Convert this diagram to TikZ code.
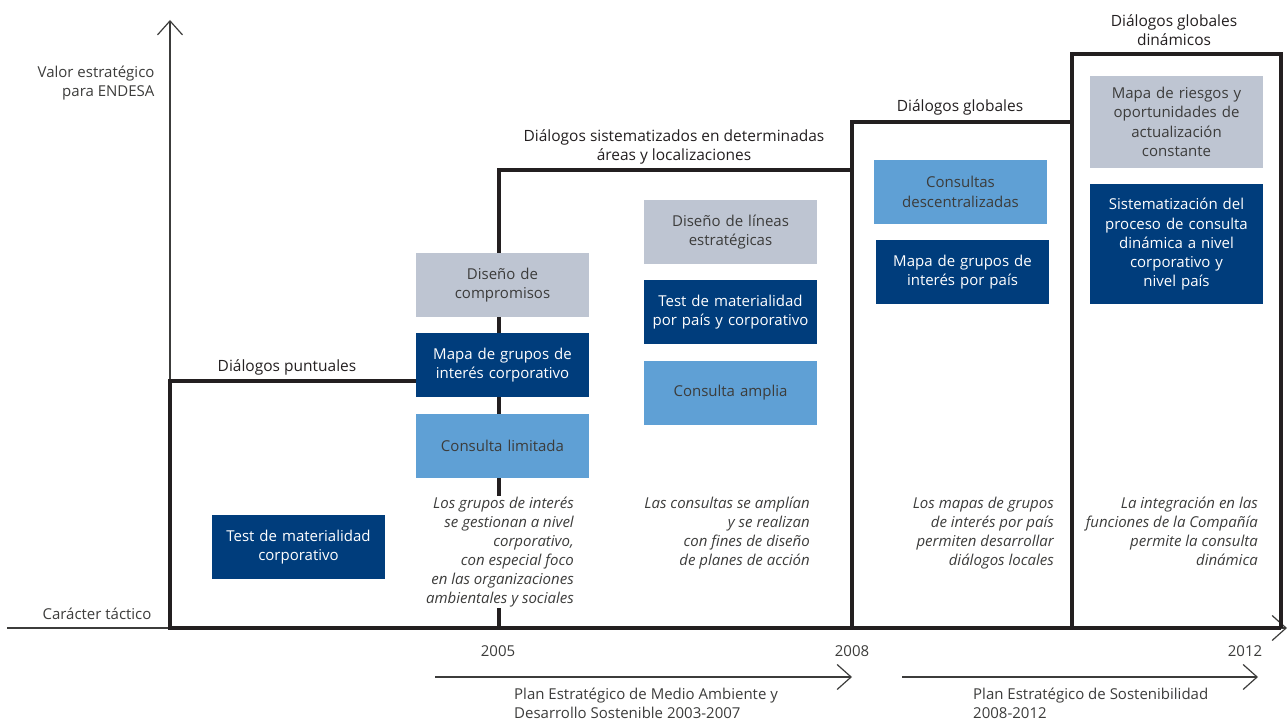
\documentclass[tikz,border=0pt]{standalone}
\usepackage{fontspec}
\setmainfont{Open Sans}
\usetikzlibrary{arrows.meta}
\usetikzlibrary{positioning}

\definecolor{darkblue}{RGB}{0,61,124}
\definecolor{lightblue}{RGB}{95,160,213}
\definecolor{paleblue}{RGB}{190,197,210}
\definecolor{inkgrey}{RGB}{60,60,59}
\definecolor{stairblack}{RGB}{35,31,32}

\tikzset{
  boxbase/.style={rectangle,minimum width=173pt,minimum height=64pt,text width=170pt,align=center,inner sep=0pt,font=\fontsize{15}{19.3}\selectfont},
  darkbox/.style={boxbase,fill=darkblue,text=white},
  lightbox/.style={boxbase,fill=lightblue,text=inkgrey},
  greybox/.style={boxbase,fill=paleblue,text=inkgrey},
  note/.style={align=right,inner sep=1pt,text=inkgrey,font=\fontsize{15}{19}\selectfont\itshape},
  heading/.style={align=center,text=stairblack,font=\fontsize{15.5}{19.5}\selectfont},
  sidelabel/.style={text=inkgrey,font=\fontsize{15}{19}\selectfont},
  stair/.style={line width=3.5pt,draw=stairblack,line join=miter},
  axis/.style={line width=1.2pt,draw=inkgrey,-{Straight Barb[length=14pt,width=25pt]}}
}

\begin{document}
\begin{tikzpicture}[x=1pt,y=-1pt]
  \useasboundingbox (0,0) rectangle (1288,722);

  % axes
  \coordinate (orig) at (170,628);
  \coordinate (ytop) at (170,20);
  \coordinate (xleft) at (7,628);
  \coordinate (xright) at (1287,628);
  \draw [axis] (orig) -- (ytop);
  \draw [axis] (xleft) -- (xright);

  \node [sidelabel,align=right,anchor=east] (valor) at (158,83) {Valor estratégico\\para ENDESA};
  \node [sidelabel,anchor=east] (tactico) at (155,614) {Carácter táctico};

  % staircase of dialogue stages
  \draw [stair] (1281,628) -- (170,628) -- (170,381) -- (499,381);
  \draw [stair] (499,628) -- (499,170) -- (852,170);
  \draw [stair] (852,628) -- (852,122) -- (1072,122);
  \draw [stair] (1072,628) -- (1072,54) -- (1281,54) -- (1281,628);

  \node [heading] (puntuales) at (287,367) {Diálogos puntuales};
  \node [heading] (sistematizados) at (674,147) {Diálogos sistematizados en determinadas\\áreas y localizaciones};
  \node [heading] (globales) at (960,107) {Diálogos globales};
  \node [heading] (dinamicos) at (1174,30) {Diálogos globales\\dinámicos};

  % stage 1
  \node [darkbox] (tm_corp) at (298.5,547) {Test de materialidad\\corporativo};

  % stage 2
  \node [greybox] (d_comp) at (502.5,285) {Diseño de\\compromisos};
  \node [darkbox,below=16pt of d_comp] (mg_corp) {Mapa de grupos de\\interés corporativo};
  \node [lightbox,below=16pt of mg_corp] (c_lim) {Consulta limitada};
  \node [note,fill=white,anchor=north east] (n_corp) at (575,496)
    {Los grupos de interés\\se gestionan a nivel\\corporativo,\\con especial foco\\en las organizaciones\\ambientales y sociales};

  % stage 3
  \node [greybox] (d_lin) at (730.5,232) {Diseño de líneas\\estratégicas};
  \node [darkbox,below=16pt of d_lin] (tm_pais) {Test de materialidad\\por país y corporativo};
  \node [lightbox,below=16pt of tm_pais] (c_amp) {Consulta amplia};
  \node [note,anchor=north east] (n_amp) at (811,496)
    {Las consultas se amplían\\y se realizan\\con fines de diseño\\de planes de acción};

  % stage 4
  \node [lightbox] (c_desc) at (960.5,192) {Consultas\\descentralizadas};
  \node [darkbox] (mg_pais) at (962.5,272) {Mapa de grupos de\\interés por país};
  \node [note,anchor=north east] (n_pais) at (1055,496)
    {Los mapas de grupos\\de interés por país\\permiten desarrollar\\diálogos locales};

  % stage 5
  \node [greybox,minimum height=92pt] (m_riesgos) at (1176.5,122) {Mapa de riesgos y\\oportunidades de\\actualización\\constante};
  \node [darkbox,minimum height=120pt,below=16pt of m_riesgos] (sist) {Sistematización del\\proceso de consulta\\dinámica a nivel\\corporativo y\\nivel país};
  \node [note,anchor=north east] (n_din) at (1259,496)
    {La integración en las\\funciones de la Compañía\\permite la consulta\\dinámica};

  % years and plans
  \node [sidelabel] (y2005) at (498,651) {2005};
  \node [sidelabel] (y2008) at (852,651) {2008};
  \node [sidelabel] (y2012) at (1245,651) {2012};

  \coordinate (plan1a) at (435,677);
  \coordinate (plan1b) at (852,677);
  \coordinate (plan2a) at (902,677);
  \coordinate (plan2b) at (1258,677);
  \draw [axis] (plan1a) -- (plan1b);
  \draw [axis] (plan2a) -- (plan2b);

  \node [sidelabel,align=left,anchor=north west,inner sep=0pt] (plan1) at (514,688) {Plan Estratégico de Medio Ambiente y\\Desarrollo Sostenible 2003-2007};
  \node [sidelabel,align=left,anchor=north west,inner sep=0pt] (plan2) at (973,688) {Plan Estratégico de Sostenibilidad\\2008-2012};

\end{tikzpicture}
\end{document}
